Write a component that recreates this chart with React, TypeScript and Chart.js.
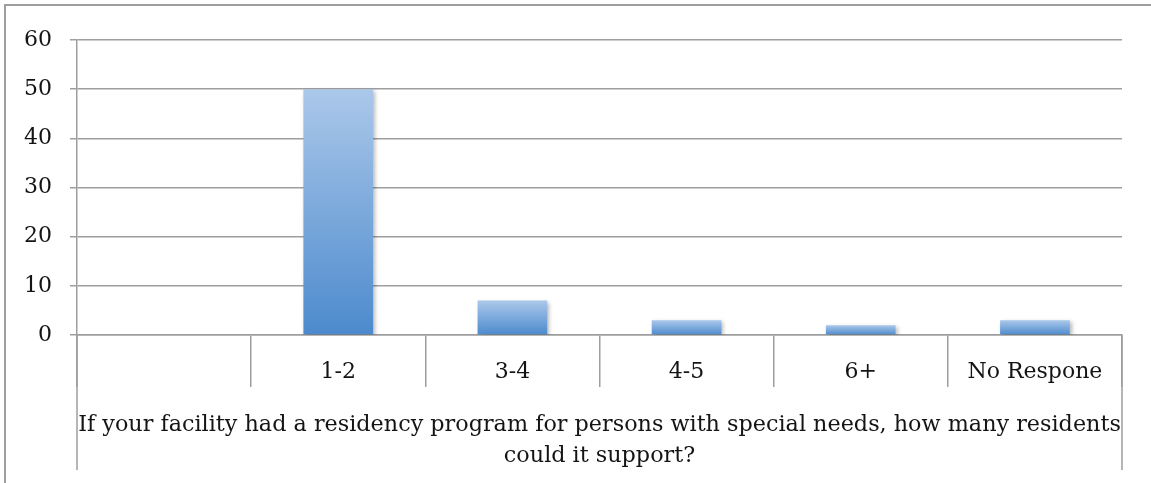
import React, { useEffect, useRef } from "react";
import { Chart, registerables } from "chart.js";

Chart.register(...registerables);

const categories = ["", "1-2", "3-4", "4-5", "6+", "No Respone"];
const values: (number | null)[] = [null, 50, 7, 3, 2, 3];
const yTicks = [0, 10, 20, 30, 40, 50, 60];
const axisTitle = [
  "If your facility had a residency program for persons with special needs, how many residents",
  "could it support?",
];

const FONT = "'DejaVu Serif', serif";
const GRID = "#9e9e9e";
const TEXT = "#141414";

export default function App() {
  const ref = useRef<HTMLCanvasElement | null>(null);

  useEffect(() => {
    if (!ref.current) return;
    document.body.style.margin = "0";

    const framePlugin = {
      id: "frame",
      beforeDraw(chart: any) {
        const c = chart.ctx;
        c.save();
        c.fillStyle = "#ffffff";
        c.fillRect(0, 0, chart.width, chart.height);
        c.strokeStyle = GRID;
        c.lineWidth = 2;
        c.beginPath();
        c.moveTo(5, chart.height);
        c.lineTo(5, 5);
        c.lineTo(chart.width, 5);
        c.stroke();
        c.restore();
      },
      afterDraw(chart: any) {
        const c = chart.ctx;
        const a = chart.chartArea;
        c.save();
        c.strokeStyle = GRID;
        c.lineWidth = 1.5;
        c.beginPath();
        c.moveTo(a.left, a.bottom);
        c.lineTo(a.left, 470);
        c.moveTo(a.right, a.bottom);
        c.lineTo(a.right, 470);
        c.stroke();
        c.restore();
      },
    };

    const shadowPlugin = {
      id: "barShadow",
      beforeDatasetsDraw(chart: any) {
        const c = chart.ctx;
        c.save();
        c.shadowColor = "rgba(0,0,0,0.28)";
        c.shadowBlur = 4;
        c.shadowOffsetX = 2;
        c.shadowOffsetY = 2;
      },
      afterDatasetsDraw(chart: any) {
        chart.ctx.restore();
      },
    };

    const chart = new Chart(ref.current, {
      type: "bar",
      data: {
        labels: categories,
        datasets: [
          {
            data: values,
            categoryPercentage: 1,
            barPercentage: 0.4,
            borderWidth: 0,
            backgroundColor: (ctx: any) => {
              const ch = ctx.chart;
              const y = ch.scales && ch.scales.y;
              if (!y || ctx.type !== "data" || ctx.raw == null) return "#7aa6da";
              const top = y.getPixelForValue(ctx.raw);
              const bottom = y.getPixelForValue(0);
              const g = ch.ctx.createLinearGradient(0, top, 0, bottom);
              g.addColorStop(0, "#abc8ea");
              g.addColorStop(1, "#4c8acd");
              return g;
            },
          },
        ],
      },
      options: {
        responsive: false,
        animation: false,
        devicePixelRatio: 1,
        layout: { padding: { top: 40, right: 29, left: 0, bottom: 0 } },
        plugins: {
          legend: { display: false },
          tooltip: { enabled: false },
          title: { display: false },
        },
        scales: {
          x: {
            offset: true,
            afterFit: (s: any) => {
              s.height = 148;
            },
            grid: {
              offset: true,
              drawOnChartArea: false,
              drawTicks: true,
              tickLength: 52,
              color: GRID,
              lineWidth: 1.5,
            },
            border: { display: true, color: GRID, width: 1.5 },
            ticks: {
              autoSkip: false,
              maxRotation: 0,
              minRotation: 0,
              padding: -28,
              color: TEXT,
              font: { family: FONT, size: 22 },
            },
            title: {
              display: true,
              text: axisTitle,
              color: TEXT,
              font: { family: FONT, size: 22.3, lineHeight: 1.4 },
              padding: { top: 0, bottom: 11 },
            },
          },
          y: {
            min: 0,
            max: 60,
            afterFit: (s: any) => {
              s.width = 77;
            },
            afterBuildTicks: (s: any) => {
              s.ticks = yTicks.map((v) => ({ value: v }));
            },
            grid: {
              color: GRID,
              lineWidth: 1.5,
              drawTicks: true,
              tickLength: 7,
            },
            border: { display: true, color: GRID, width: 1.5 },
            ticks: {
              padding: 18,
              color: TEXT,
              font: { family: FONT, size: 22 },
            },
          },
        },
      },
      plugins: [framePlugin, shadowPlugin],
    });

    return () => chart.destroy();
  }, []);

  return (
    <div style={{ position: "fixed", left: 0, top: 0, width: 1151, height: 483 }}>
      <canvas ref={ref} width={1151} height={483} style={{ display: "block" }} />
    </div>
  );
}
